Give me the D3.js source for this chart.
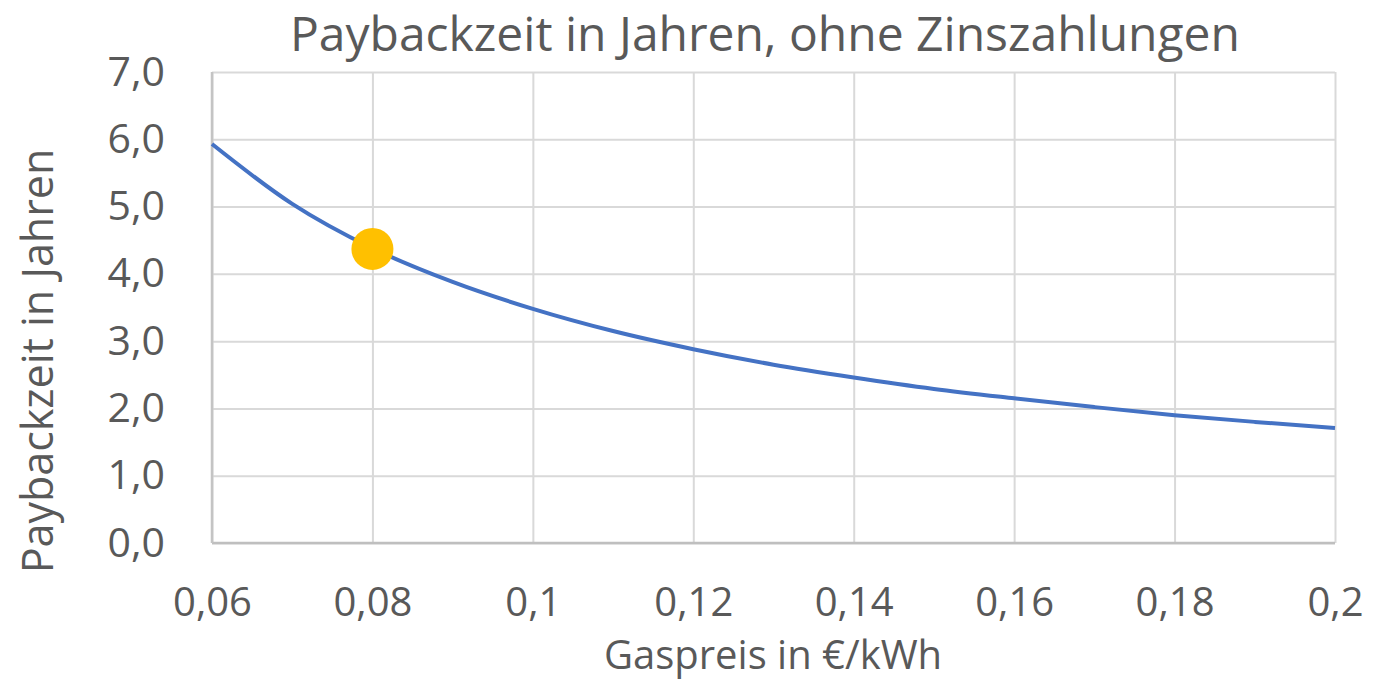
<!DOCTYPE html>
<meta charset="utf-8">
<style>
body { margin: 0; background: #fff; }
text { font-family: "Open Sans", sans-serif; fill: #595959; }
.grid line { stroke: #d9d9d9; stroke-width: 2px; }
.grid path { display: none; }
.axis path, .axis line { display: none; }
</style>
<svg width="1395" height="681"></svg>
<script src="https://d3js.org/d3.v7.min.js"></script>
<script>

// Gaspreis in €/kWh, Paybackzeit in Jahren
var gaspreis = [0.06, 0.07, 0.08, 0.09, 0.10, 0.11, 0.12, 0.13, 0.14, 0.15, 0.16, 0.17, 0.18, 0.19, 0.20];
var payback  = [5.93, 5.04, 4.38, 3.88, 3.48, 3.15, 2.88, 2.65, 2.46, 2.29, 2.15, 2.02, 1.90, 1.80, 1.71];
var marker = {x: 0.08, y: 4.37};

var xTicks = [0.06, 0.08, 0.1, 0.12, 0.14, 0.16, 0.18, 0.2];
var yTicks = [0, 1, 2, 3, 4, 5, 6, 7];

var svg = d3.select("svg"),
    margin = {top: 72, right: 60, bottom: 138, left: 212},
    width = +svg.attr("width") - margin.left - margin.right,
    height = +svg.attr("height") - margin.top - margin.bottom;

var x = d3.scaleLinear().domain([0.06, 0.2]).range([0, width]),
    y = d3.scaleLinear().domain([0, 7]).range([height, 0]);

var g = svg.append("g")
    .attr("transform", "translate(" + margin.left + "," + margin.top + ")");

var comma = function (f) { return function (d) { return f(d).replace(".", ","); }; };

// gridlines
g.append("g")
    .attr("class", "grid")
    .call(d3.axisLeft(y).tickValues(yTicks).tickSize(-width).tickFormat(""));
g.append("g")
    .attr("class", "grid")
    .attr("transform", "translate(0," + height + ")")
    .call(d3.axisBottom(x).tickValues(xTicks).tickSize(-height).tickFormat(""));

// axis lines
g.append("line")
    .attr("x1", 0).attr("x2", width)
    .attr("y1", height).attr("y2", height)
    .style("stroke", "#bfbfbf").style("stroke-width", 2.5);
g.append("line")
    .attr("x1", 0).attr("x2", 0)
    .attr("y1", 0).attr("y2", height)
    .style("stroke", "#c4c4c4").style("stroke-width", 2.5);

// tick labels
g.append("g")
    .attr("class", "axis")
    .call(d3.axisLeft(y).tickValues(yTicks).tickSize(0).tickPadding(47).tickFormat(comma(d3.format(".1f"))))
    .selectAll("text")
    .style("font-size", "41px").style("fill", "#595959");

g.append("g")
    .attr("class", "axis")
    .attr("transform", "translate(0," + height + ")")
    .call(d3.axisBottom(x).tickValues(xTicks).tickSize(0).tickPadding(45).tickFormat(comma(d3.format("~g"))))
    .selectAll("text")
    .style("font-size", "40px").style("fill", "#595959");

// line
var line = d3.line()
    .x(function (d, i) { return x(gaspreis[i]); })
    .y(function (d) { return y(d); })
    .curve(d3.curveMonotoneX);

g.append("path")
    .datum(payback)
    .attr("d", line)
    .style("fill", "none")
    .style("stroke", "#4472c4")
    .style("stroke-width", 4);

g.append("circle")
    .attr("cx", x(marker.x))
    .attr("cy", y(marker.y))
    .attr("r", 21)
    .style("fill", "#ffc000");

// titles
svg.append("text")
    .attr("x", 765).attr("y", 51)
    .attr("text-anchor", "middle")
    .style("font-size", "48px")
    .text("Paybackzeit in Jahren, ohne Zinszahlungen");

svg.append("text")
    .attr("x", 773).attr("y", 669)
    .attr("text-anchor", "middle")
    .style("font-size", "40px")
    .text("Gaspreis in €/kWh");

svg.append("text")
    .attr("transform", "translate(53,361) rotate(-90)")
    .attr("text-anchor", "middle")
    .style("font-size", "43px")
    .text("Paybackzeit in Jahren");

</script>
